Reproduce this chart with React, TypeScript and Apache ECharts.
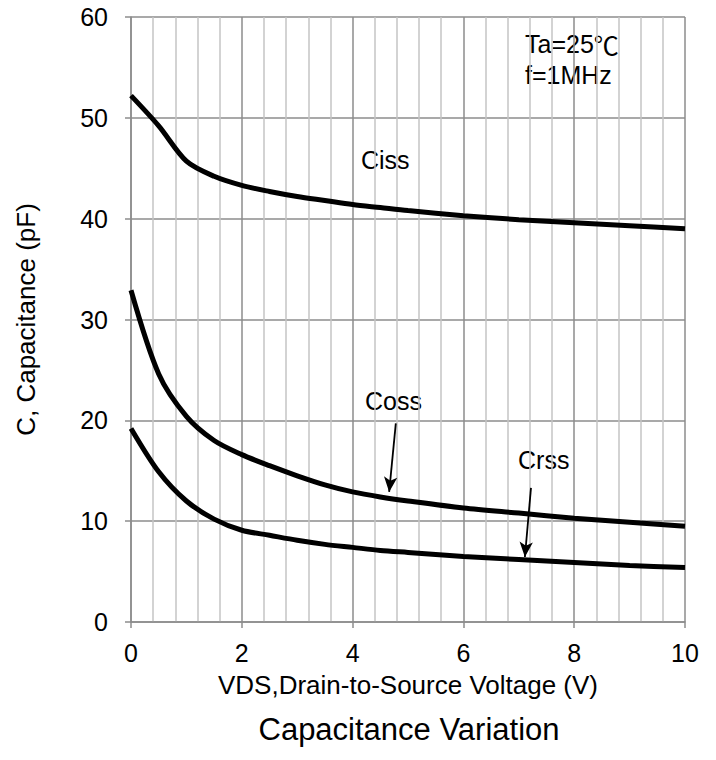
import React, { useEffect, useRef } from "react";
import * as echarts from "echarts";

const xValues = [0, 0.5, 1, 1.5, 2, 2.5, 3, 3.5, 4, 4.5, 5, 6, 7, 8, 9, 10];
const ciss = [52.2, 49.2, 45.7, 44.2, 43.3, 42.7, 42.2, 41.8, 41.4, 41.1, 40.8, 40.3, 39.9, 39.6, 39.3, 39.0];
const coss = [32.9, 24.6, 20.4, 18.0, 16.6, 15.5, 14.5, 13.6, 12.9, 12.4, 12.0, 11.3, 10.8, 10.3, 9.9, 9.5];
const crss = [19.2, 14.9, 12.0, 10.2, 9.1, 8.6, 8.1, 7.7, 7.4, 7.1, 6.9, 6.5, 6.2, 5.9, 5.6, 5.4];

const seriesNames = ["Ciss", "Coss", "Crss"];
const conditionLines = ["Ta=25{c|℃}", "f=1MHz"];
const xTitle = "VDS,Drain-to-Source Voltage (V)";
const yTitle = "C, Capacitance (pF)";
const chartTitle = "Capacitance Variation";

const FONT = "'Liberation Sans', Arial, sans-serif";

export default function App() {
  const ref = useRef<HTMLDivElement>(null);
  useEffect(() => {
    document.body.style.margin = "0";
    const chart = echarts.init(ref.current!, null, { renderer: "svg" });
    const mk = (vals: number[]) => xValues.map((x, i) => [x, vals[i]]);
    const lineStyle = { color: "#000", width: 5 };
    const arrowStyle = {
      silent: true,
      symbol: ["none", "arrow"],
      symbolSize: [10, 15],
      label: { show: false },
      lineStyle: { color: "#000", width: 1.8, type: "solid" },
    };
    const labelText = (text: string, x: number, y: number) => ({
      type: "text",
      x,
      y,
      style: {
        text,
        fontFamily: FONT,
        fontSize: 25,
        fill: "#000",
        rich: { c: { fontFamily: "'Noto Sans CJK SC', sans-serif", fontSize: 25, fill: "#000" } },
      },
    });
    chart.setOption({
      animation: false,
      textStyle: { fontFamily: FONT },
      grid: { left: 131, top: 17, right: 31, bottom: 138, containLabel: false },
      xAxis: {
        type: "value",
        min: 0,
        max: 10,
        interval: 2,
        name: xTitle,
        nameLocation: "middle",
        nameGap: 50,
        nameTextStyle: { fontFamily: FONT, fontSize: 26, color: "#000" },
        axisLine: { show: true, lineStyle: { color: "#8c8c8c", width: 1.5 } },
        axisTick: { show: true, length: 6, lineStyle: { color: "#8c8c8c", width: 1.5 } },
        axisLabel: { fontFamily: FONT, fontSize: 25, color: "#000", margin: 18 },
        splitLine: { show: true, lineStyle: { color: "#8c8c8c", width: 1.5 } },
        minorTick: { show: false, splitNumber: 5 },
        minorSplitLine: { show: true, lineStyle: { color: "#c4c4c4", width: 1.5 } },
      },
      yAxis: {
        type: "value",
        min: 0,
        max: 60,
        interval: 10,
        name: yTitle,
        nameLocation: "middle",
        nameGap: 92,
        nameTextStyle: { fontFamily: FONT, fontSize: 26, color: "#000" },
        axisLine: { show: true, lineStyle: { color: "#8c8c8c", width: 1.5 } },
        axisTick: { show: true, length: 6, lineStyle: { color: "#8c8c8c", width: 1.5 } },
        axisLabel: { fontFamily: FONT, fontSize: 25, color: "#000", margin: 23 },
        splitLine: { show: true, lineStyle: { color: "#8c8c8c", width: 1.5 } },
      },
      series: [
        {
          name: seriesNames[0],
          type: "line",
          data: mk(ciss),
          smooth: 0.3,
          showSymbol: false,
          lineStyle,
        },
        {
          name: seriesNames[1],
          type: "line",
          data: mk(coss),
          smooth: 0.3,
          showSymbol: false,
          lineStyle,
          markLine: { ...arrowStyle, data: [[{ coord: [4.78, 19.7] }, { coord: [4.66, 12.9] }]] },
        },
        {
          name: seriesNames[2],
          type: "line",
          data: mk(crss),
          smooth: 0.3,
          showSymbol: false,
          lineStyle,
          markLine: { ...arrowStyle, data: [[{ coord: [7.22, 13.3] }, { coord: [7.11, 6.45] }]] },
        },
      ],
      graphic: [
        labelText(seriesNames[0], 361, 147),
        labelText(seriesNames[1], 365, 388),
        labelText(seriesNames[2], 518, 447),
        labelText(conditionLines[0], 525, 31),
        labelText(conditionLines[1], 525, 62),
        {
          type: "text",
          x: 409,
          y: 714,
          style: { text: chartTitle, fontFamily: FONT, fontSize: 31, fill: "#000", textAlign: "center", textVerticalAlign: "top" },
        },
      ],
    });
    return () => chart.dispose();
  }, []);
  return <div ref={ref} style={{ width: 716, height: 760 }} />;
}
